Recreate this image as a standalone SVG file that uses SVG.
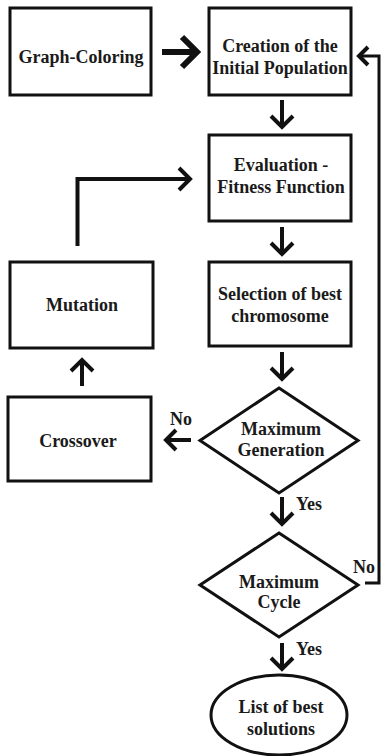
<svg xmlns="http://www.w3.org/2000/svg" width="382" height="756" viewBox="0 0 382 756">
  <style>
    .box { fill: #fff; stroke: #111; stroke-width: 3; }
    .lbl { font-family: 'Liberation Serif', 'DejaVu Serif', serif; font-weight: bold; font-size: 18px; fill: #1a1a1a; text-anchor: middle; }
    .edge { fill: none; stroke: #111; stroke-width: 4; stroke-linejoin: miter; stroke-linecap: butt; }
    .thick { stroke-width: 6; }
    .thin { stroke-width: 3; }
  </style>
  <rect width="382" height="756" fill="#fff"/>

  <g id="connectors">
    <!-- Graph-Coloring to Creation -->
    <path class="edge thick" d="M162 52 H196"/>
    <path class="edge thick" d="M182 37 L197 52 L182 67"/>
    <!-- Creation to Evaluation -->
    <path class="edge" d="M282 100 V127"/>
    <path class="edge" d="M271 116 L282 127 L293 116"/>
    <!-- Evaluation to Selection -->
    <path class="edge" d="M282 227 V254"/>
    <path class="edge" d="M271 243 L282 254 L293 243"/>
    <!-- Selection to Maximum Generation -->
    <path class="edge" d="M282 352 V379"/>
    <path class="edge" d="M271 368 L282 379 L293 368"/>
    <!-- Maximum Generation: No to Crossover -->
    <path class="edge" d="M191 440 H167"/>
    <path class="edge" d="M176 430 L166 440 L176 450"/>
    <!-- Crossover to Mutation -->
    <path class="edge" d="M82 386 V360"/>
    <path class="edge" d="M71 371 L82 360 L93 371"/>
    <!-- Mutation back to Evaluation -->
    <path class="edge" d="M77.5 246 V179 H190"/>
    <path class="edge" d="M179 168 L190 179 L179 190"/>
    <!-- Maximum Generation: Yes to Maximum Cycle -->
    <path class="edge" d="M282 497 V524"/>
    <path class="edge" d="M271 513 L282 524 L293 513"/>
    <!-- Maximum Cycle: No back to Creation -->
    <path class="edge thin" d="M365 583 H379 V56 H360"/>
    <path class="edge" d="M368 47 L359 56 L368 65"/>
    <!-- Maximum Cycle: Yes to result -->
    <path class="edge" d="M282 643 V669"/>
    <path class="edge" d="M271 658 L282 669 L293 658"/>
  </g>

  <g id="graph-coloring">
    <rect class="box" x="10" y="8" width="141" height="87"/>
    <text class="lbl" x="81" y="63">Graph-Coloring</text>
  </g>
  <g id="initial-population">
    <rect class="box" x="209" y="8" width="142" height="87"/>
    <text class="lbl" x="280" y="52">Creation of the</text>
    <text class="lbl" x="280" y="74">Initial Population</text>
  </g>
  <g id="evaluation">
    <rect class="box" x="209" y="135" width="142" height="86"/>
    <text class="lbl" x="281" y="171">Evaluation -</text>
    <text class="lbl" x="281" y="193">Fitness Function</text>
  </g>
  <g id="selection">
    <rect class="box" x="209" y="262" width="142" height="84"/>
    <text class="lbl" x="280" y="300">Selection of best</text>
    <text class="lbl" x="280" y="322">chromosome</text>
  </g>
  <g id="mutation">
    <rect class="box" x="10" y="262" width="143" height="86"/>
    <text class="lbl" x="82" y="311">Mutation</text>
  </g>
  <g id="crossover">
    <rect class="box" x="8" y="397" width="143" height="84"/>
    <text class="lbl" x="78" y="447">Crossover</text>
  </g>
  <g id="max-generation">
    <polygon class="box" points="279,388 358,440.5 279,493 200,440.5"/>
    <text class="lbl" x="281" y="435">Maximum</text>
    <text class="lbl" x="281" y="456">Generation</text>
    <text class="lbl" x="181" y="425">No</text>
    <text class="lbl" x="309" y="510">Yes</text>
  </g>
  <g id="max-cycle">
    <polygon class="box" points="279,533 358,585 279,637 200,585"/>
    <text class="lbl" x="279" y="588">Maximum</text>
    <text class="lbl" x="279" y="608">Cycle</text>
    <text class="lbl" x="364" y="573">No</text>
    <text class="lbl" x="309" y="655">Yes</text>
  </g>
  <g id="best-solutions">
    <ellipse class="box" cx="279" cy="715" rx="68" ry="40"/>
    <text class="lbl" x="281" y="713">List of best</text>
    <text class="lbl" x="281" y="735">solutions</text>
  </g>
</svg>
